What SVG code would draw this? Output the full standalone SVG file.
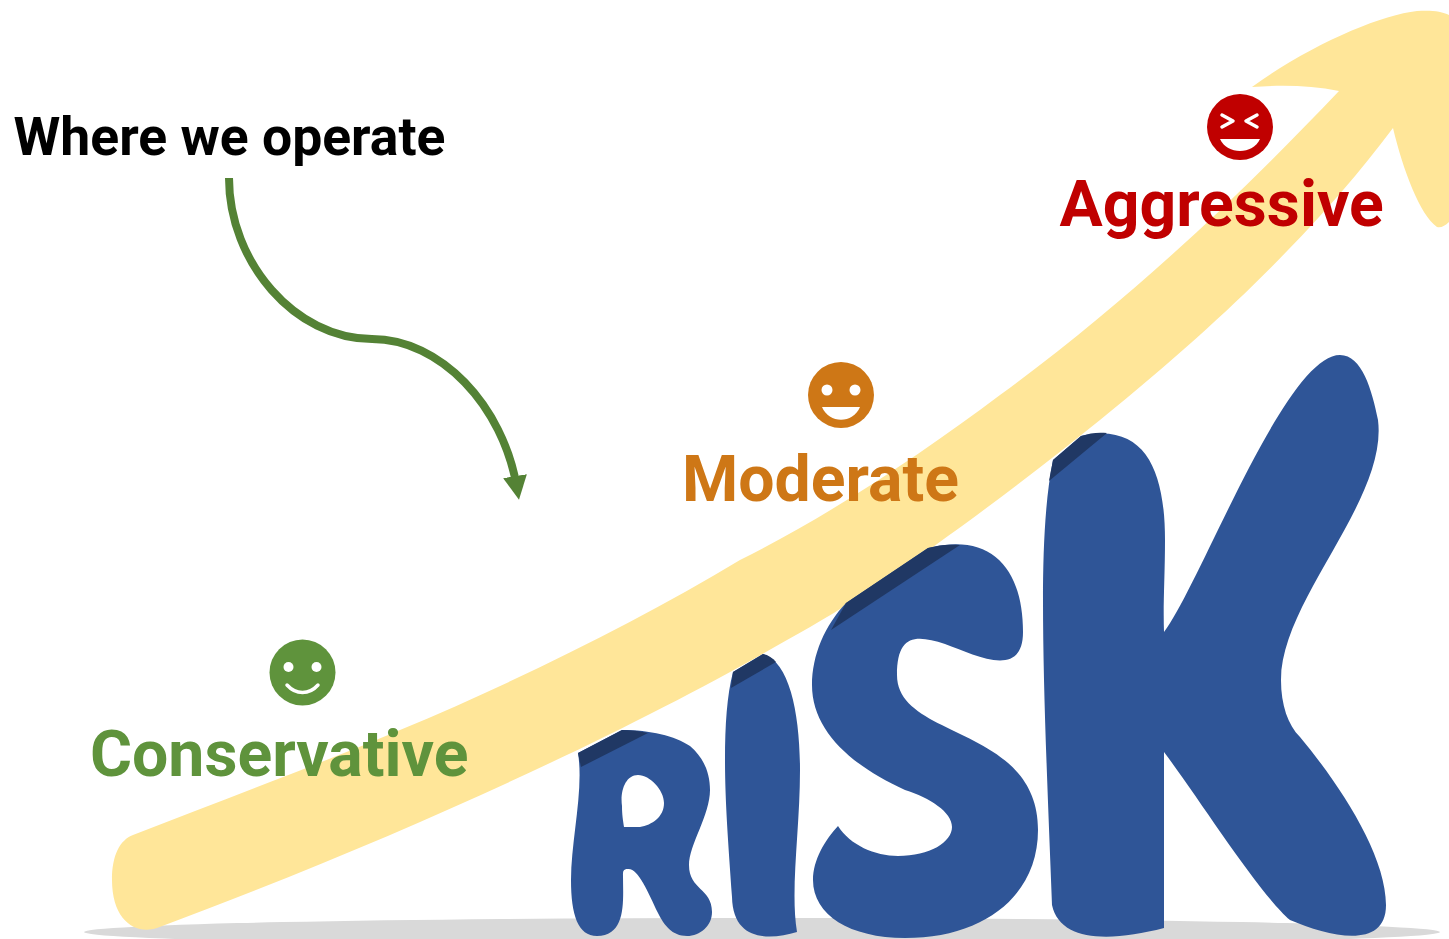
<svg xmlns="http://www.w3.org/2000/svg" width="1449" height="939" viewBox="0 0 1449 939">
<style>
.lbl{font-family:Roboto,"Liberation Sans",sans-serif;font-weight:700;font-size:64.300px}
.blue{fill:#2f5597}
.dark{fill:#203864}
.w{fill:#fff}
.ws{fill:none;stroke:#fff;stroke-width:3.5;stroke-linecap:round;stroke-linejoin:round}
</style>
<defs>
<marker id="ah" markerUnits="userSpaceOnUse" markerWidth="26" markerHeight="26" refX="12" refY="12" orient="auto"><path d="M0 0L24 12L0 24Z" fill="#548235"/></marker>
</defs>
<rect width="1449" height="939" fill="#fff"/>
<ellipse id="shadow" cx="762" cy="932" rx="678" ry="14" fill="#d9d9d9"/>
<path id="rising-arrow" fill="#ffe699" d="M133 835C230 797 330 760 400 730C520 680 640 620 740 560C830 515 920 455 1000 395C1130 300 1240 195 1339 91C1310 85 1280 85 1252 87C1310 45 1380 15 1417 11C1430 10 1442 11 1449 15L1449 222C1445 226 1441 228 1437 227C1420 215 1403 170 1393 128C1360 172 1325 212 1288 250C1240 300 1180 355 1100 420C1000 500 880 590 787 640C640 725 420 830 157 928C135 935 112 920 112 880C112 855 120 840 133 835Z"/>
<g id="letter-R">
<path class="blue" fill-rule="evenodd" d="M578 753L622 730C650 730 675 736 690 746C703 757 710 772 710 790C710 815 689 845 689 865C689 890 712 888 712 912C712 926 700 936 687 936C672 936 664 925 658 913C648 892 638 868 628 869C623 869 623 871 623 876C623 900 627 936 597 936C578 936 571 915 571 880C571 840 584 790 578 753ZM638 775C625 775 620 792 622 806C622 815 623 820 624 827L640 827C652 825 664 817 664 803C664 790 650 775 638 775Z"/>
<path class="dark" d="M578 753L622 730C630 730 640 731 648 733L581 767Z"/>
</g>
<g id="letter-I">
<path class="blue" d="M733 672L763 654C790 662 800 715 800 770C800 830 790 890 797 932C770 940 733 942 732 897C728 840 725 800 725 760C725 725 727 695 733 672Z"/>
<path class="dark" d="M733 672L763 654C768 655 773 658 776 662L731 688Z"/>
</g>
<g id="letter-S">
<path class="blue" d="M846 603L928 548C990 532 1023 567 1023 632C1023 680 975 655 945 644C915 634 897 635 897 675C897 740 1038 725 1038 830C1038 895 985 938 905 938C850 938 813 915 813 880C813 860 825 840 838 826C850 845 875 856 898 856C930 856 952 842 952 827C952 812 930 798 905 790C850 765 812 730 812 685C812 655 825 625 846 603Z"/>
<path class="dark" d="M846 603L928 548C938 545 948 544 960 545L831 630Z"/>
</g>
<g id="letter-K">
<path class="blue" d="M1053 460L1081 436C1145 422 1165 470 1165 540C1165 575 1163 605 1164 632C1200 585 1285 355 1340 355C1362 355 1372 390 1378 420C1388 500 1281 600 1281 680C1281 705 1288 725 1300 737C1340 785 1386 855 1386 905C1386 950 1330 937 1290 920C1260 895 1200 800 1164 752L1164 928C1110 942 1060 942 1052 905C1048 800 1043 690 1043 600C1043 550 1045 500 1053 460Z"/>
<path class="dark" d="M1053 460L1081 436C1090 433 1098 432 1107 433L1049 481Z"/>
</g>
<g id="connectors">
<path d="M229 178C229 262 295 339 372 339C440 339 503 405 517 488" fill="none" stroke="#548235" stroke-width="8" marker-end="url(#ah)"/>
</g>
<text id="title" x="13.500" y="154.500" font-family="Roboto,'Liberation Sans',sans-serif" font-weight="700" font-size="53.500" fill="#000">Where we operate</text>
<g id="conservative">
<circle cx="302.5" cy="672.5" r="33" fill="#5f933c"/>
<circle class="w" cx="288.500" cy="667" r="5"/><circle class="w" cx="316.500" cy="667" r="5"/>
<path class="ws" d="M287 685C296 695 309 695 318 685"/>
<text class="lbl" x="90" y="776" fill="#5f933c">Conservative</text>
</g>
<g id="moderate">
<circle cx="841" cy="395" r="33" fill="#ce7716"/>
<circle class="w" cx="827" cy="390" r="5.500"/><circle class="w" cx="855" cy="390" r="5.500"/>
<path class="w" d="M822 407L860 407C853 424 829 424 822 407Z"/>
<text class="lbl" x="682" y="501" fill="#ce7716">Moderate</text>
</g>
<g id="aggressive">
<circle cx="1240" cy="127" r="33" fill="#c00000"/>
<path class="ws" d="M1222 115L1233 121L1222 127M1257 115L1246 121L1257 127"/>
<path class="w" d="M1220 139L1260 139C1253 155 1227 155 1220 139Z"/>
<text class="lbl" x="1059.500" y="226" fill="#c00000">Aggressive</text>
</g>
</svg>
